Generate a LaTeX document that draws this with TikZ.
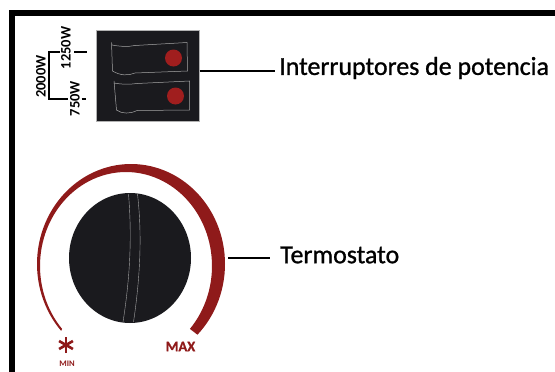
\documentclass[tikz,border=0pt]{standalone}
\usepackage{fontspec}
\usepackage{xcolor}
\setmainfont{Carlito}
\newfontfamily\heavyfont[FakeBold=1]{Carlito}
\usetikzlibrary{positioning,calc,shapes.geometric}
\definecolor{panelblack}{HTML}{1A1A1E}
\definecolor{dialred}{HTML}{8F1A1A}
\definecolor{dotred}{HTML}{A01E1E}
\tikzset{
    leader/.style={line width=2.8pt, black},
    wiring/.style={line width=1.1pt, black},
    rocker/.style={draw=gray!70, line width=0.5pt},
    mainlabel/.style={inner sep=0pt, anchor=west, font=\heavyfont\fontsize{25.9}{26}\selectfont},
    powerlabel/.style={inner sep=0pt, rotate=90, font=\bfseries\fontsize{14.5}{15}\selectfont},
}

\begin{document}
\begin{tikzpicture}[x=1pt, y=-1pt]
    \useasboundingbox (0,0) rectangle (555,372);

    % Frame
    \fill[black] (9,10) rectangle (555,16);
    \fill[black] (9,10) rectangle (15,372);

    % Switch panel
    \node[fill=panelblack, draw=gray!60, line width=0.3pt, minimum width=103pt, minimum height=91pt, inner sep=0pt] (panel) at (148,75.5) {};

    % Rockers
    \draw[rocker] (111.5,42.5) -- (112,45) .. controls (120,46.5) and (128,47) .. (135,45.5) -- (187,42.5) -- (187.5,71) -- (135,73) .. controls (128,76) and (120,75.5) .. (112.5,71) -- cycle;
    \draw[rocker] (114,81) -- (114,83) .. controls (122,84.5) and (130,84.5) .. (137,83.5) -- (189.5,81) -- (189.5,110) -- (137,110.5) .. controls (130,114) and (122,114) .. (116.5,110) -- cycle;
    \fill[dotred] (173.5,58) circle (8.5);
    \fill[dotred] (175.5,96) circle (8.5);

    % Power labels
    \node[powerlabel] (p1250) at (66,48) {1250W};
    \node[powerlabel] (p2000) at (41,76.5) {2000W};
    \node[powerlabel] (p750) at (75,98.5) {750W};

    % Wiring
    \draw[wiring] (60,52) -- (49,52) -- (49,99) -- (68,99);
    \draw[wiring] (74,52) -- (87,52);
    \draw[wiring] (81.5,99) -- (86,99);

    % Dial scale
    \fill[dialred] plot[domain=138:405, samples=90] ({131+94*cos(\x)},{264+100*sin(\x)})
        -- plot[domain=402:138, samples=90] ({126+86*cos(\x)},{266+94*sin(\x)}) -- cycle;

    % Knob
    \node[ellipse, fill=panelblack, minimum width=122pt, minimum height=130pt, inner sep=0pt] (knob) at (130,258) {};
    \draw[gray!70, line width=0.4pt] (128.5,194) .. controls (131,225) and (132,265) .. (123,322);
    \draw[gray!70, line width=0.4pt] (137.5,194) .. controls (141,225) and (142,265) .. (133.5,322);

    % Scale marks
    \foreach \a in {0,60,120} {
        \draw[dialred, line width=2.6pt] ($(66,345)+(\a+90:8)$) -- ($(66,345)+(\a+270:8)$);
    }
    \node[inner sep=0pt, text=dialred, font=\fontsize{8.5}{9}\selectfont\bfseries] (minlabel) at (67,363.5) {MIN};
    \node[inner sep=0pt, text=dialred, font=\heavyfont\bfseries\fontsize{14.5}{15}\selectfont] (maxlabel) at (180.5,346.5) {MAX};

    % Labels
    \node[mainlabel] (potlabel) at (279,68) {Interruptores de potencia};
    \node[mainlabel] (termlabel) at (280,255) {Termostato};
    \coordinate (potend) at (275,71);
    \coordinate (dialtip) at (228,258);
    \coordinate (dialend) at (270,258);
    \draw[leader] (panel.east |- potend) -- (potend);
    \draw[leader] (dialtip) -- (dialend);
\end{tikzpicture}
\end{document}
